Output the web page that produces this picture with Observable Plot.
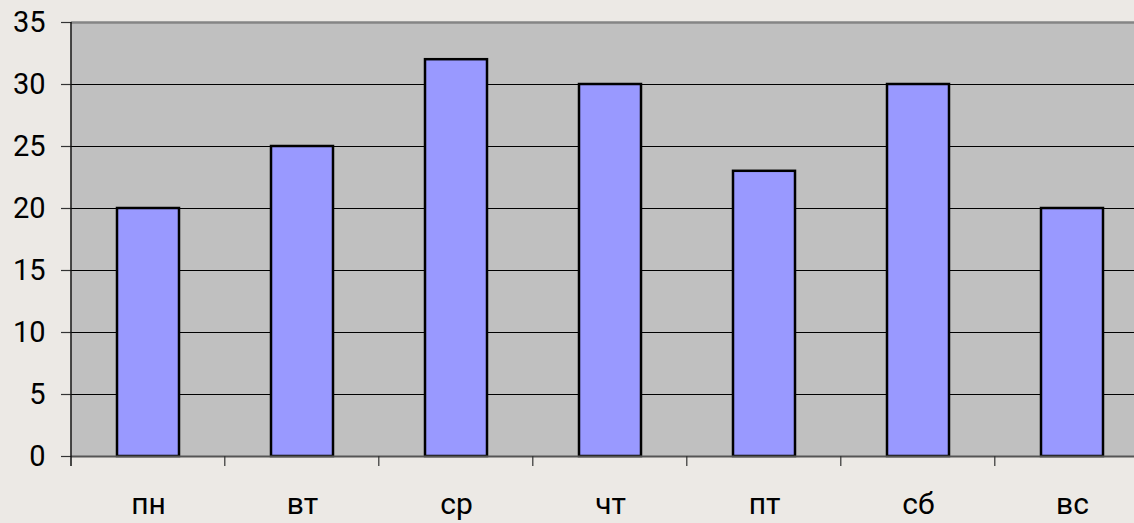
<!DOCTYPE html>
<html><head><meta charset="utf-8">
<script src="https://cdn.jsdelivr.net/npm/d3@7"></script>
<script src="https://cdn.jsdelivr.net/npm/@observablehq/plot@0.6"></script>
<style>
html,body{margin:0;padding:0;background:#ece9e5;overflow:hidden}
svg{display:block}
</style></head><body>
<div id="chart"></div>
<script>
const days = ["пн","вт","ср","чт","пт","сб","вс"];
const values = [20,25,32,30,23,30,20];
const yTicks = [0,5,10,15,20,25,30,35];
const data = days.map((d,i)=>({day:d, value:values[i]}));

const plot = Plot.plot({
  width: 1134, height: 523,
  marginTop: 22, marginBottom: 67, marginLeft: 71, marginRight: 0,
  style: {background: "#ece9e5", fontFamily: "Roboto, sans-serif", fontSize: "29px", color: "#000"},
  x: {domain: days, range: [71, 1149], paddingInner: 0.6, paddingOuter: 0.3, label: null},
  y: {domain: [0, 35], label: null},
  marks: [
    Plot.frame({fill: "#c0c0c0", stroke: null}),
    Plot.ruleY(yTicks.slice(1, -1), {stroke: "#000", strokeWidth: 1.2}),
    Plot.ruleY([35], {stroke: "#858585", strokeWidth: 2.5}),
    Plot.barY(data, {x: "day", y: "value", fill: "#9999ff", stroke: "#000", strokeWidth: 2.5}),
    Plot.ruleY([0], {stroke: "#555", strokeWidth: 2}),
    Plot.axisY({ticks: yTicks, tickSize: 10, tickPadding: 16, fontSize: 29, stroke: "#333", strokeWidth: 1.2}),
    Plot.axisX({tickSize: 0, tickPadding: 36, fontSize: 30})
  ]
});
document.getElementById("chart").appendChild(plot);

// vertical axis line and category boundary ticks from the x scale
const xs = plot.scale("x"), ys = plot.scale("y");
const svg = d3.select(plot);
const y0 = ys.apply(0), yTop = ys.apply(35);
const left = xs.range[0];
svg.append("line").attr("x1", left).attr("x2", left).attr("y1", yTop).attr("y2", y0 + 10)
  .attr("stroke", "#111").attr("stroke-width", 1.5);
days.forEach(d => {
  const xb = xs.apply(d) - xs.step * xs.paddingOuter;
  if (xb > left + 1) {
    svg.append("line").attr("x1", xb).attr("x2", xb).attr("y1", y0).attr("y2", y0 + 10)
      .attr("stroke", "#333").attr("stroke-width", 1.2);
  }
});
</script>
</body></html>
